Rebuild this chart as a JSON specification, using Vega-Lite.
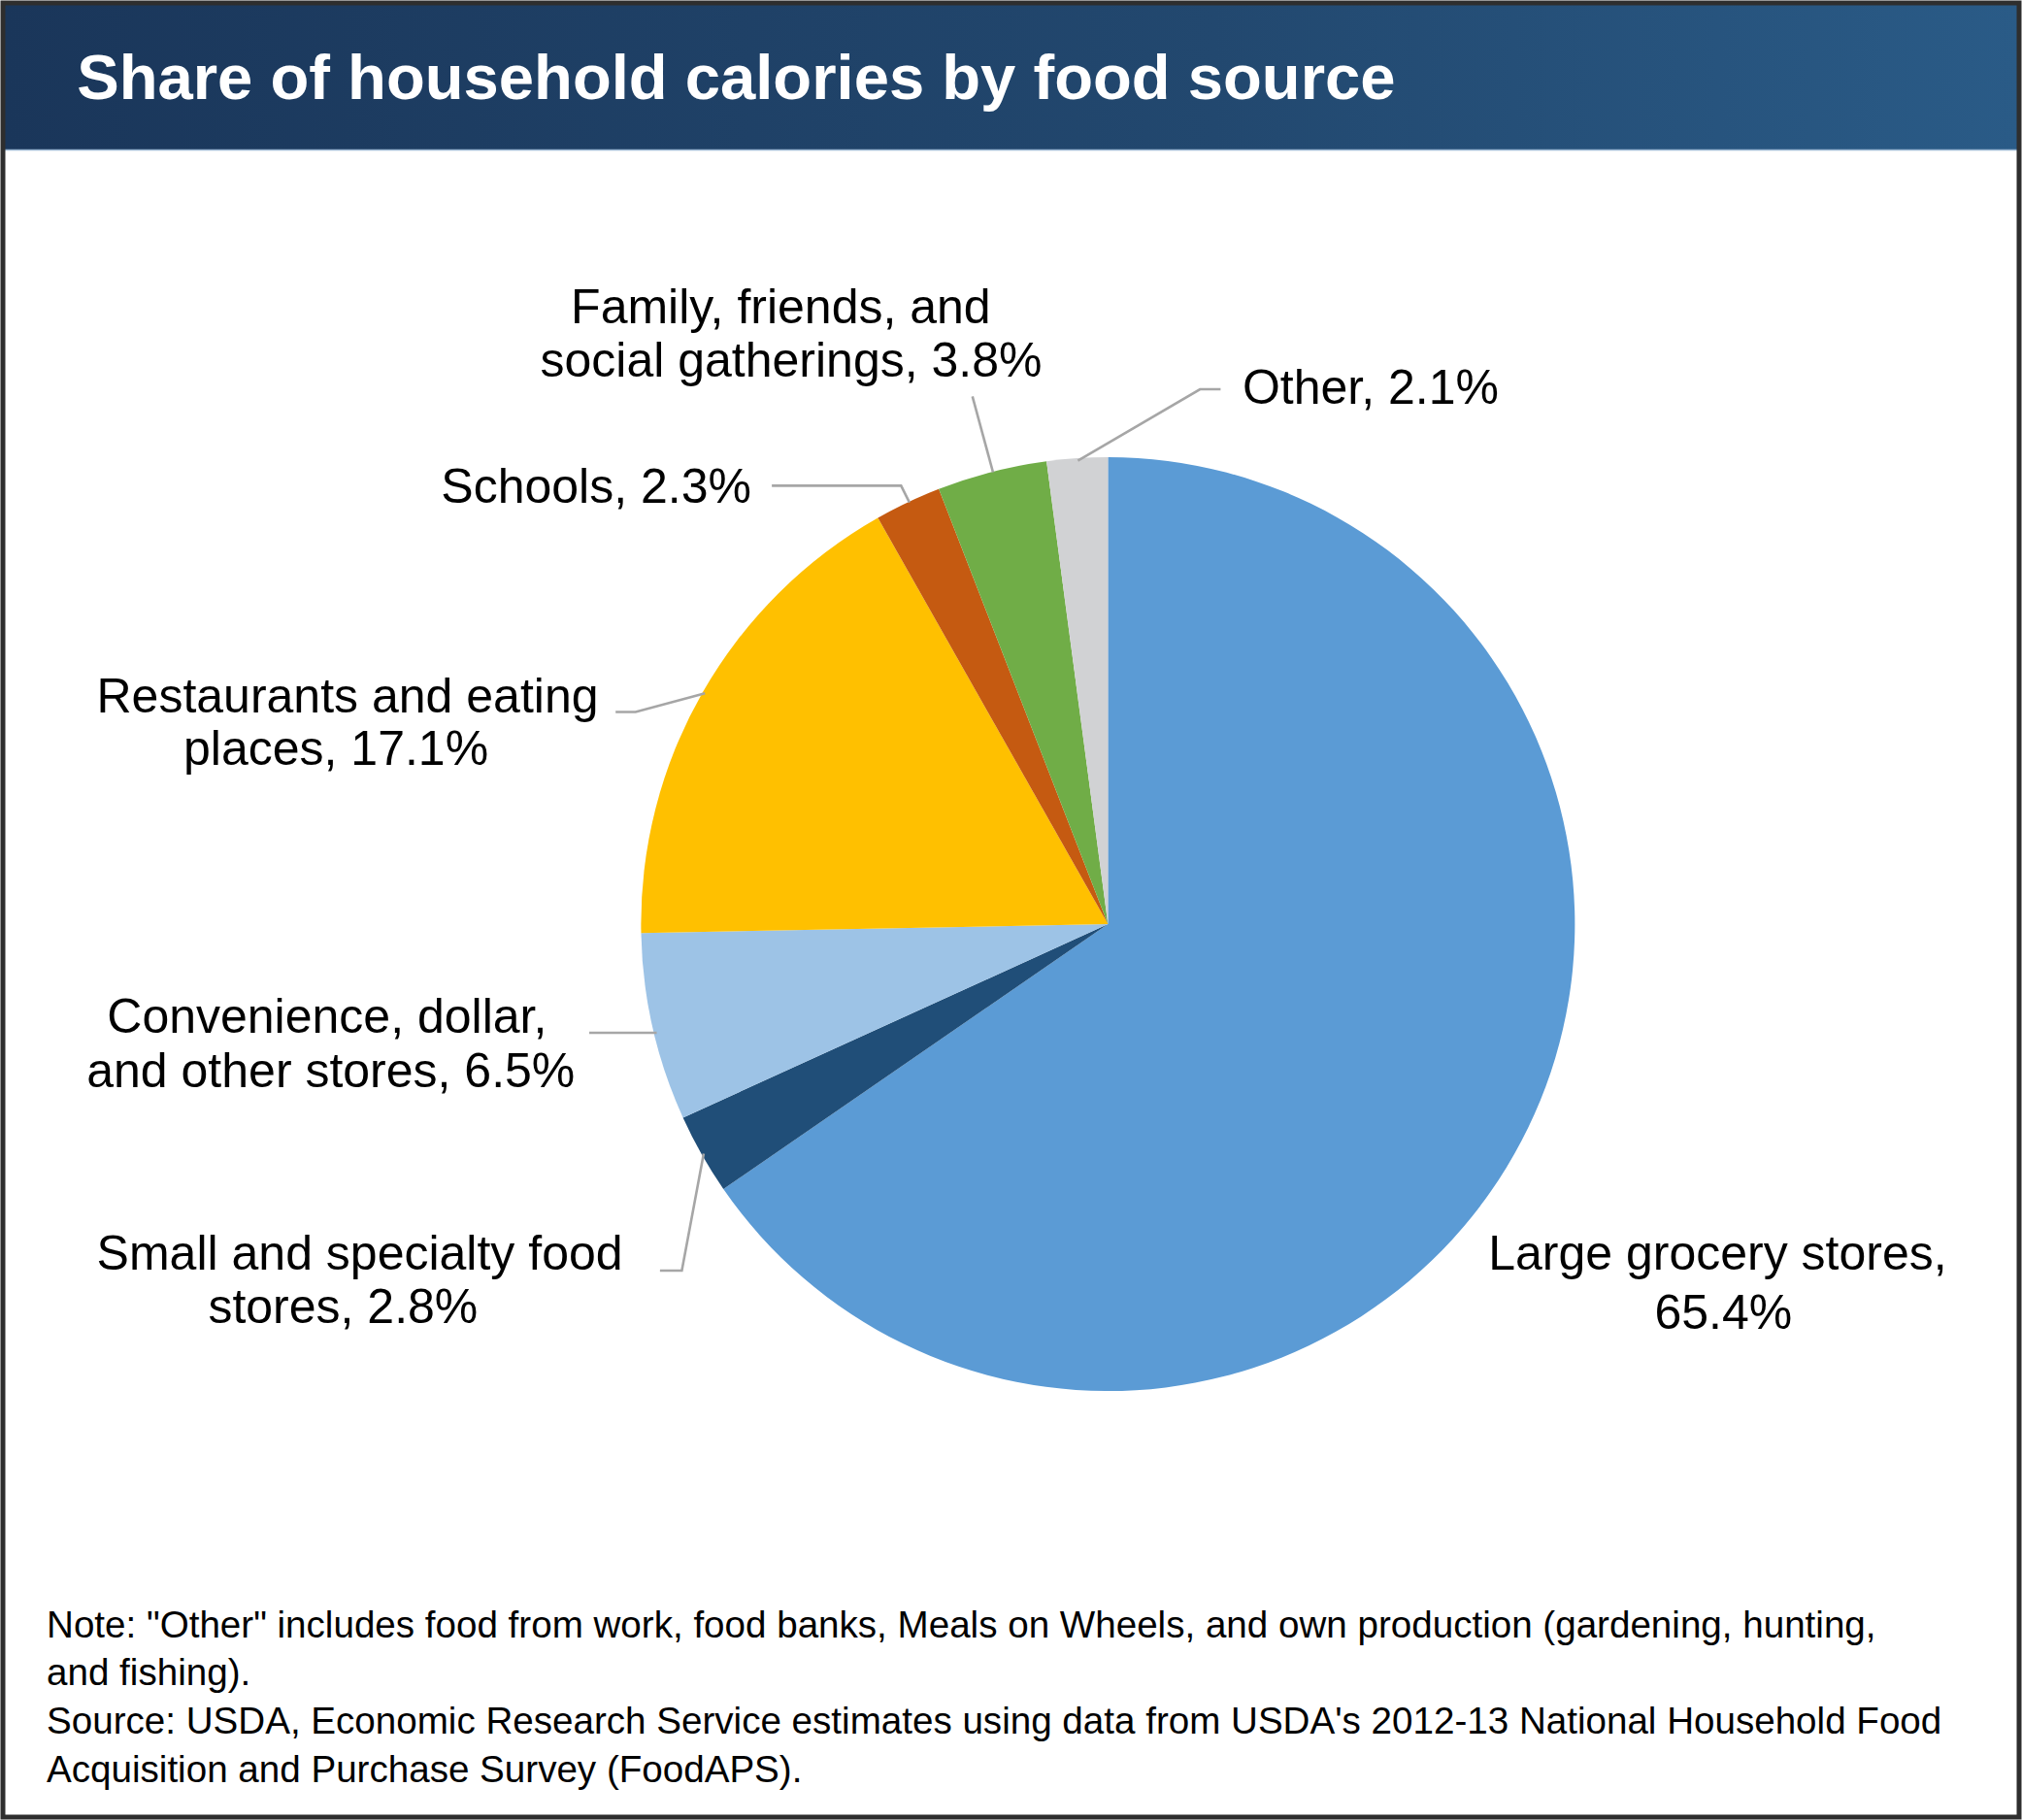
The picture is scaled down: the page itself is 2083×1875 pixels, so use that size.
{
  "$schema": "https://vega.github.io/schema/vega-lite/v6.json",
  "autosize": {"type": "fit", "contains": "padding"},
  "width": 2083,
  "height": 1875,
  "padding": 0,
  "background": "#ffffff",
  "config": {
    "view": {"stroke": null},
    "axis": {"disable": true},
    "text": {"font": "Liberation Sans", "fontSize": 50, "baseline": "alphabetic", "color": "#000000"}
  },
  "datasets": {
    "slices": [
      {"source": "Large grocery stores", "share": 65.4, "order": 1},
      {"source": "Small and specialty food stores", "share": 2.8, "order": 2},
      {"source": "Convenience, dollar, and other stores", "share": 6.5, "order": 3},
      {"source": "Restaurants and eating places", "share": 17.1, "order": 4},
      {"source": "Schools", "share": 2.3, "order": 5},
      {"source": "Family, friends, and social gatherings", "share": 3.8, "order": 6},
      {"source": "Other", "share": 2.1, "order": 7}
    ],
    "labels": [
      {"line": "Family, friends, and", "x": 605, "y": 249, "align": "center"},
      {"line": "social gatherings, 3.8%", "x": 613, "y": 291, "align": "center"},
      {"line": "Other, 2.1%", "x": 964, "y": 311.5, "align": "left"},
      {"line": "Schools, 2.3%", "x": 582, "y": 388.5, "align": "right"},
      {"line": "Restaurants and eating", "x": 268, "y": 552, "align": "center"},
      {"line": "places, 17.1%", "x": 259, "y": 593, "align": "center"},
      {"line": "Convenience, dollar,", "x": 252, "y": 801, "align": "center"},
      {"line": "and other stores, 6.5%", "x": 255, "y": 843, "align": "center"},
      {"line": "Small and specialty food", "x": 277.5, "y": 985, "align": "center"},
      {"line": "stores, 2.8%", "x": 264.5, "y": 1026.5, "align": "center"},
      {"line": "Large grocery stores,", "x": 1333.5, "y": 985, "align": "center"},
      {"line": "65.4%", "x": 1338, "y": 1031, "align": "center"}
    ],
    "leaders": [
      {"id": "family", "pt": 1, "x": 754, "y": 306},
      {"id": "family", "pt": 2, "x": 770, "y": 365},
      {"id": "other", "pt": 1, "x": 947, "y": 300.5},
      {"id": "other", "pt": 2, "x": 931, "y": 300.5},
      {"id": "other", "pt": 3, "x": 836, "y": 356},
      {"id": "schools", "pt": 1, "x": 598, "y": 375.5},
      {"id": "schools", "pt": 2, "x": 698.5, "y": 375.5},
      {"id": "schools", "pt": 3, "x": 705, "y": 388.5},
      {"id": "restaurants", "pt": 1, "x": 476.5, "y": 551.5},
      {"id": "restaurants", "pt": 2, "x": 492, "y": 551.5},
      {"id": "restaurants", "pt": 3, "x": 546, "y": 537},
      {"id": "convenience", "pt": 1, "x": 456, "y": 801},
      {"id": "convenience", "pt": 2, "x": 508.5, "y": 801},
      {"id": "small", "pt": 1, "x": 511, "y": 986},
      {"id": "small", "pt": 2, "x": 528, "y": 986},
      {"id": "small", "pt": 3, "x": 545, "y": 895}
    ],
    "notes": [
      {"line": "Note: \"Other\" includes food from work, food banks, Meals on Wheels, and own production (gardening, hunting,", "x": 34, "y": 1271},
      {"line": "and fishing).", "x": 34, "y": 1308.5},
      {"line": "Source: USDA, Economic Research Service estimates using data from USDA's 2012-13 National Household Food", "x": 34, "y": 1346},
      {"line": "Acquisition and Purchase Survey (FoodAPS).", "x": 34, "y": 1384}
    ]
  },
  "layer": [
    {
      "data": {"values": [{"x": 0, "x2": 1568, "y": 0, "y2": 114}]},
      "mark": {
        "type": "rect",
        "color": {
          "gradient": "linear",
          "stops": [
            {"offset": 0, "color": "#1A365A"},
            {"offset": 0.6, "color": "#22486F"},
            {"offset": 1, "color": "#2A5B87"}
          ]
        }
      },
      "encoding": {
        "x": {"field": "x", "type": "quantitative", "scale": {"domain": [0, 1568], "nice": false, "zero": false}},
        "x2": {"field": "x2"},
        "y": {"field": "y", "type": "quantitative", "scale": {"domain": [0, 1411], "reverse": true, "nice": false, "zero": false}},
        "y2": {"field": "y2"}
      }
    },
    {
      "data": {"values": [{"x": 0, "x2": 1568, "y": 114.3}]},
      "mark": {"type": "rule", "color": "#9DB8D3", "strokeWidth": 1.5},
      "encoding": {
        "x": {"field": "x", "type": "quantitative"},
        "x2": {"field": "x2"},
        "y": {"field": "y", "type": "quantitative"}
      }
    },
    {
      "data": {"values": [{"line": "Share of household calories by food source", "x": 57.5, "y": 74.5}]},
      "mark": {"type": "text", "align": "left", "fontSize": 65.2, "fontWeight": "bold", "color": "#ffffff"},
      "encoding": {
        "x": {"field": "x", "type": "quantitative"},
        "y": {"field": "y", "type": "quantitative"},
        "text": {"field": "line"}
      }
    },
    {
      "data": {"name": "slices"},
      "mark": {"type": "arc", "outerRadius": 481, "stroke": null},
      "encoding": {
        "theta": {"field": "share", "type": "quantitative", "stack": true},
        "order": {"field": "order", "type": "quantitative"},
        "color": {
          "field": "source",
          "type": "nominal",
          "legend": null,
          "scale": {
            "domain": [
              "Large grocery stores",
              "Small and specialty food stores",
              "Convenience, dollar, and other stores",
              "Restaurants and eating places",
              "Schools",
              "Family, friends, and social gatherings",
              "Other"
            ],
            "range": ["#5B9BD5", "#204E78", "#9DC3E6", "#FFC000", "#C55A11", "#70AD47", "#D1D2D4"]
          }
        },
        "x": {"datum": 859.4, "type": "quantitative"},
        "y": {"datum": 716.5, "type": "quantitative"}
      }
    },
    {
      "data": {"name": "leaders"},
      "mark": {"type": "line", "color": "#A6A6A6", "strokeWidth": 2.6},
      "encoding": {
        "x": {"field": "x", "type": "quantitative"},
        "y": {"field": "y", "type": "quantitative"},
        "detail": {"field": "id"},
        "order": {"field": "pt", "type": "quantitative"}
      }
    },
    {
      "data": {"name": "labels"},
      "transform": [{"filter": "datum.align === 'center'"}],
      "mark": {"type": "text", "align": "center"},
      "encoding": {
        "x": {"field": "x", "type": "quantitative"},
        "y": {"field": "y", "type": "quantitative"},
        "text": {"field": "line"}
      }
    },
    {
      "data": {"name": "labels"},
      "transform": [{"filter": "datum.align === 'left'"}],
      "mark": {"type": "text", "align": "left"},
      "encoding": {
        "x": {"field": "x", "type": "quantitative"},
        "y": {"field": "y", "type": "quantitative"},
        "text": {"field": "line"}
      }
    },
    {
      "data": {"name": "labels"},
      "transform": [{"filter": "datum.align === 'right'"}],
      "mark": {"type": "text", "align": "right"},
      "encoding": {
        "x": {"field": "x", "type": "quantitative"},
        "y": {"field": "y", "type": "quantitative"},
        "text": {"field": "line"}
      }
    },
    {
      "data": {"name": "notes"},
      "mark": {"type": "text", "align": "left", "fontSize": 38.6},
      "encoding": {
        "x": {"field": "x", "type": "quantitative"},
        "y": {"field": "y", "type": "quantitative"},
        "text": {"field": "line"}
      }
    },
    {
      "data": {"values": [{"x": 0, "x2": 1568, "y": 0, "y2": 1411}]},
      "mark": {"type": "rect", "filled": false, "stroke": "#2E2E2E", "strokeWidth": 5},
      "encoding": {
        "x": {"field": "x", "type": "quantitative"},
        "x2": {"field": "x2"},
        "y": {"field": "y", "type": "quantitative"},
        "y2": {"field": "y2"}
      }
    }
  ]
}
